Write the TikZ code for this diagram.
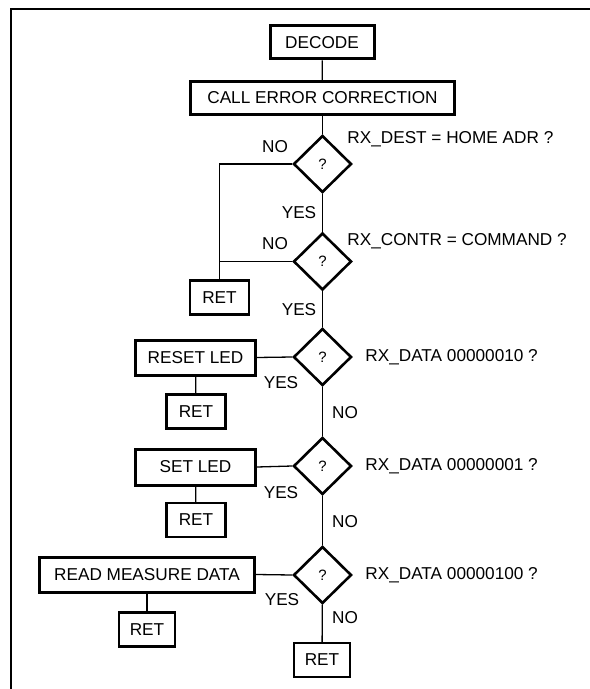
\documentclass[tikz,border=0pt]{standalone}
\usepackage{fontspec}
\setmainfont{Liberation Sans}
\usetikzlibrary{shapes.geometric}
\begin{document}
\begin{tikzpicture}[x=0.5pt,y=-0.5pt,
  txt/.style={font=\fontsize{8.6}{10}\selectfont},
  thickbox/.style={draw,line width=1.5pt,inner sep=0pt,txt},
  retbox/.style={draw,line width=1.1pt,inner sep=0pt,minimum width=29.5pt,minimum height=17pt,txt},
  dec/.style={draw,diamond,line width=1.3pt,inner sep=0pt,minimum width=29pt,minimum height=28.5pt,font=\fontsize{7.5}{9}\selectfont},
  conn/.style={line width=0.65pt},
  lbl/.style={txt,inner sep=0pt},
  cond/.style={txt,inner sep=0pt,anchor=west}]
\useasboundingbox (0,0) rectangle (589,689);
\draw[line width=1.1pt] (11,689) -- (11,9) -- (592,9);

\node[thickbox,minimum width=52pt,minimum height=16.5pt] (decode) at (322,42.5) {DECODE};
\node[thickbox,minimum width=132pt,minimum height=16.5pt] (call) at (322.5,98) {CALL ERROR CORRECTION};
\node[dec] (d1) at (322.5,164) {?};
\node[dec] (d2) at (322.5,261.5) {?};
\node[dec] (d3) at (322.5,357) {?};
\node[dec] (d4) at (322.5,466) {?};
\node[dec] (d5) at (322.5,575) {?};

\node[retbox,line width=1.4pt] (reta) at (219.5,297.5) {RET};
\node[thickbox,minimum width=60pt,minimum height=17.5pt] (reset) at (195.5,357.5) {RESET LED};
\node[retbox] (retb) at (196,411.5) {RET};
\node[thickbox,minimum width=60pt,minimum height=18pt] (set) at (195.5,467) {SET LED};
\node[retbox] (retc) at (196,520) {RET};
\node[thickbox,minimum width=107.5pt,minimum height=17.5pt] (read) at (147,574.5) {READ MEASURE DATA};
\node[retbox,line width=1.4pt,minimum width=28pt] (retd) at (147,629.5) {RET};
\node[retbox,minimum width=28pt] (rete) at (322,660) {RET};

\draw[conn] (decode) -- (call);
\draw[conn] (call) -- (d1);
\draw[conn] (d1) -- (d2);
\draw[conn] (d2) -- (d3);
\draw[conn] (d3) -- (d4);
\draw[conn] (d4) -- (d5);
\draw[conn] (d5) -- (rete);
\draw[conn] (d1.west) -| (reta.north);
\draw[conn] (d2.west) -- (reta.north |- d2.west);
\draw[conn] (d3.west) -- (reset.east);
\draw[conn] (reset) -- (retb);
\draw[conn] (d4.west) -- (set.east);
\draw[conn] (set) -- (retc);
\draw[conn] (d5.west) -- (read.east);
\draw[conn] (read) -- (retd);

\node[cond] (c1) at (347,139) {RX\_DEST = HOME ADR ?};
\node[cond] (c2) at (347,241) {RX\_CONTR = COMMAND ?};
\node[cond] (c3) at (365,357) {RX\_DATA 00000010 ?};
\node[cond] (c4) at (365,466) {RX\_DATA 00000001 ?};
\node[cond] (c5) at (365,575) {RX\_DATA 00000100 ?};

\node[lbl] (no1) at (275,147) {NO};
\node[lbl] (yes1) at (299,213) {YES};
\node[lbl] (no2) at (275,244) {NO};
\node[lbl] (yes2) at (299,310) {YES};
\node[lbl] (yes3) at (281,383) {YES};
\node[lbl] (no3) at (345,413) {NO};
\node[lbl] (yes4) at (281,493) {YES};
\node[lbl] (no4) at (345,522) {NO};
\node[lbl] (yes5) at (282,600) {YES};
\node[lbl] (no5) at (345,618) {NO};
\end{tikzpicture}
\end{document}
